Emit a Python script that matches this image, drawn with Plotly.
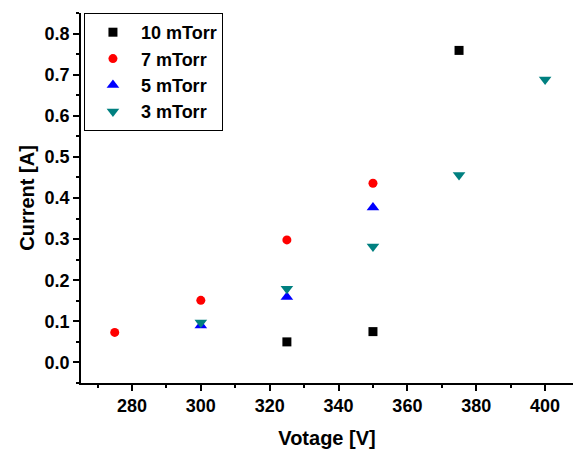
import plotly.graph_objects as go

x10 = [325, 350, 375]
y10 = [0.05, 0.075, 0.759]
x7 = [275, 300, 325, 350]
y7 = [0.073, 0.151, 0.298, 0.436]
x5 = [300, 325, 350]
y5 = [0.09, 0.159, 0.377]
x3 = [300, 325, 350, 375, 400]
y3 = [0.097, 0.179, 0.282, 0.456, 0.688]

xticks = [280, 300, 320, 340, 360, 380, 400]
yticks = [0.0, 0.1, 0.2, 0.3, 0.4, 0.5, 0.6, 0.7, 0.8]

FAM = "Arial, Liberation Sans"

fig = go.Figure()
fig.add_trace(go.Scatter(x=x10, y=y10, mode="markers", name="10 mTorr",
                         marker=dict(symbol="square", size=9, color="black")))
fig.add_trace(go.Scatter(x=x7, y=y7, mode="markers", name="7 mTorr",
                         marker=dict(symbol="circle", size=9, color="#ff0000")))
fig.add_trace(go.Scatter(x=x5, y=y5, mode="markers", name="5 mTorr",
                         marker=dict(symbol="triangle-up", size=11, color="#0000ff")))
fig.add_trace(go.Scatter(x=x3, y=y3, mode="markers", name="3 mTorr",
                         marker=dict(symbol="triangle-down", size=11, color="#008080")))

tick_font = dict(family=FAM, size=18, color="black", weight="bold")
title_font = dict(family=FAM, size=20, color="black", weight="bold")

fig.update_layout(
    width=573, height=450,
    margin=dict(l=81, r=0, t=13, b=67),
    paper_bgcolor="white", plot_bgcolor="white",
    font=dict(family=FAM, color="black"),
    legend=dict(x=0.006, y=1, xanchor="left", yanchor="top",
                bordercolor="black", borderwidth=1,
                font=dict(family=FAM, size=18, color="black", weight="bold"),
                itemwidth=46, tracegroupgap=0),
    showlegend=True,
)
fig.update_xaxes(
    range=[265.2, 408.1], showgrid=False, zeroline=False,
    showline=True, linecolor="black", linewidth=1.5,
    ticks="outside", ticklen=6, tickwidth=1.5, tickcolor="black",
    tickvals=xticks, ticktext=[str(v) for v in xticks],
    tickfont=tick_font,
    minor=dict(ticks="outside", ticklen=3, tickwidth=1.5, tickcolor="black", dtick=10, tick0=270),
    title=dict(text="Votage [V]", font=title_font, standoff=16),
)
fig.update_yaxes(
    range=[-0.05, 0.85], showgrid=False, zeroline=False,
    showline=True, linecolor="black", linewidth=1.5,
    ticks="outside", ticklen=6, tickwidth=1.5, tickcolor="black",
    tickvals=yticks, ticktext=[f"{v:.1f}" for v in yticks],
    tickfont=tick_font,
    minor=dict(ticks="outside", ticklen=3, tickwidth=1.5, tickcolor="black", dtick=0.05, tick0=-0.05),
    title=dict(text="Current [A]", font=title_font, standoff=5),
)

fig.write_html("out.html")
